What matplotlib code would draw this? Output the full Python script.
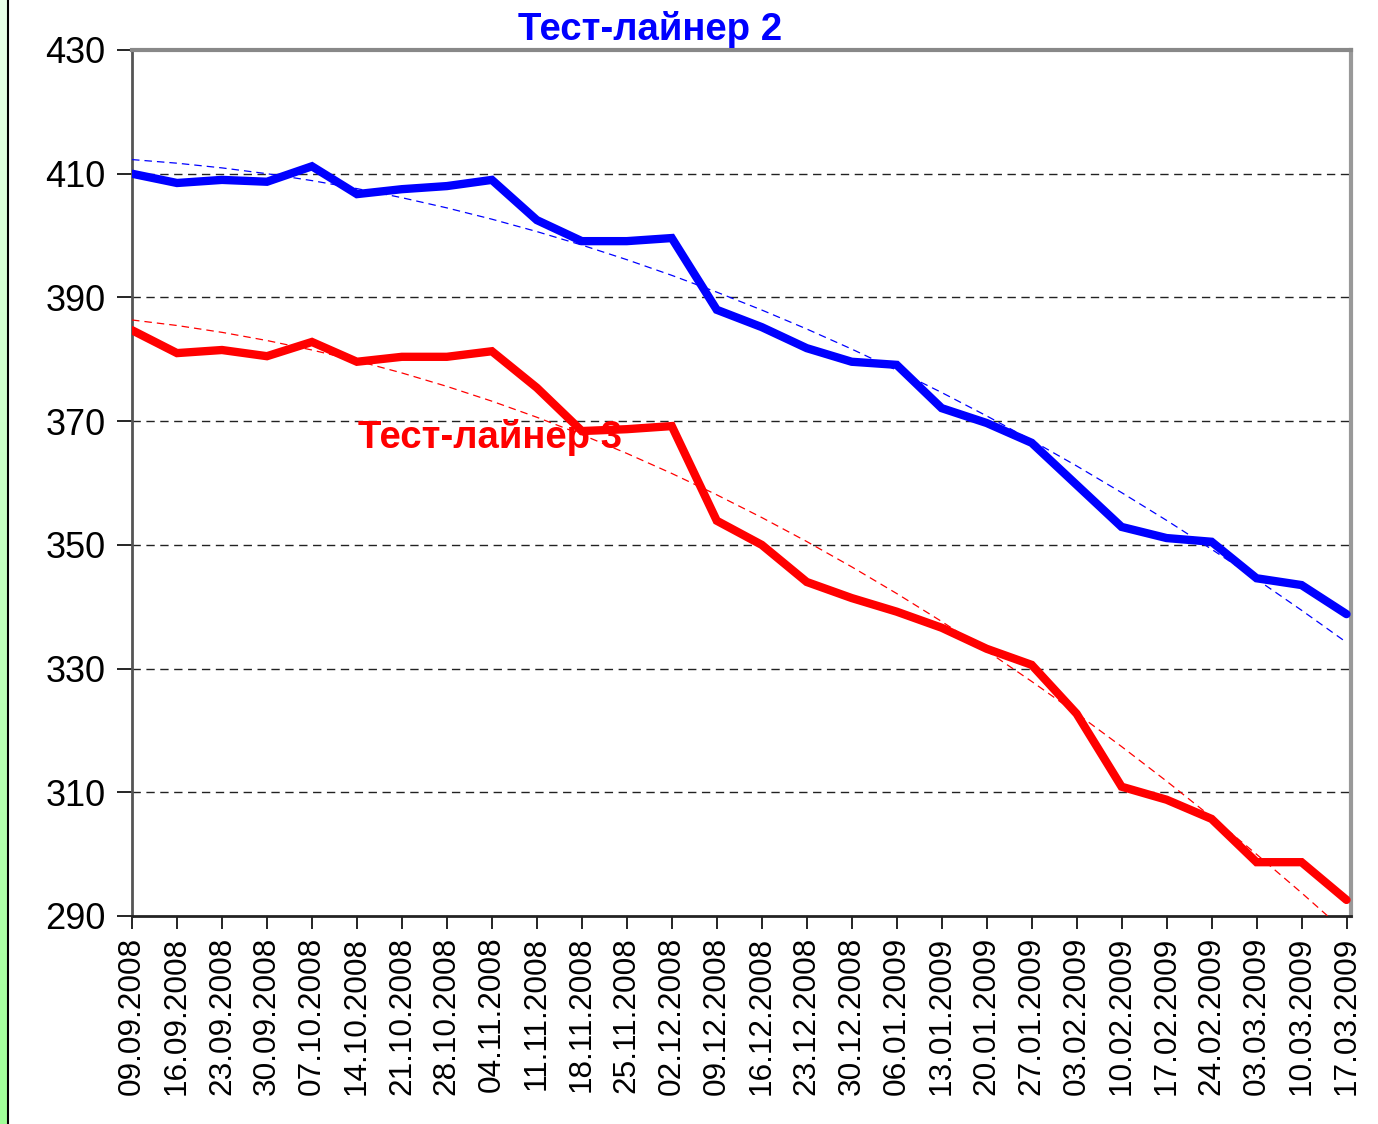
import numpy as np
import matplotlib.pyplot as plt
from matplotlib.colors import LinearSegmentedColormap

dates = ['09.09.2008', '16.09.2008', '23.09.2008', '30.09.2008', '07.10.2008',
         '14.10.2008', '21.10.2008', '28.10.2008', '04.11.2008', '11.11.2008',
         '18.11.2008', '25.11.2008', '02.12.2008', '09.12.2008', '16.12.2008',
         '23.12.2008', '30.12.2008', '06.01.2009', '13.01.2009', '20.01.2009',
         '27.01.2009', '03.02.2009', '10.02.2009', '17.02.2009', '24.02.2009',
         '03.03.2009', '10.03.2009', '17.03.2009']

liner2 = [410.0, 408.5, 409.0, 408.7, 411.2, 406.7, 407.5, 408.0, 409.0, 402.5,
          399.1, 399.1, 399.6, 388.0, 385.2, 381.8, 379.6, 379.1, 372.1, 369.7,
          366.5, 359.7, 352.9, 351.1, 350.5, 344.6, 343.5, 338.8]

liner3 = [384.7, 381.0, 381.5, 380.5, 382.8, 379.6, 380.4, 380.4, 381.3, 375.4,
          368.4, 368.7, 369.2, 353.9, 350.0, 344.0, 341.4, 339.2, 336.6, 333.2,
          330.6, 322.7, 310.9, 308.8, 305.7, 298.7, 298.7, 292.6]

plt.rcParams['font.family'] = ['Liberation Sans', 'DejaVu Sans']

fig = plt.figure(figsize=(13.78, 11.24), dpi=100)

# зелёная полоса слева
strip = fig.add_axes([0, 0, 7 / 1378, 1])
grad = np.linspace(0, 1, 256).reshape(-1, 1)
cm = LinearSegmentedColormap.from_list('g', ['#a0ff98', '#e8ffe8'])
strip.imshow(grad, aspect='auto', cmap=cm, origin='lower')
strip.axis('off')
fig.add_artist(plt.Line2D([7.5 / 1378, 7.5 / 1378], [0, 1], color='black', lw=1.5))

ax = fig.add_axes([132 / 1378, 1 - 916 / 1124, (1351 - 132) / 1378, (916 - 50) / 1124])

x = np.arange(len(dates))

# полиномиальные линии тренда
for vals, c in [(liner2, 'blue'), (liner3, 'red')]:
    p = np.polyfit(x, vals, 2)
    ax.plot(x, np.polyval(p, x), color=c, lw=0.9, ls=(0, (6, 4)), zorder=3)

ax.plot(x, liner2, color='blue', lw=6, zorder=4, solid_capstyle='round', solid_joinstyle='miter')
ax.plot(x, liner3, color='red', lw=6, zorder=4, solid_capstyle='round', solid_joinstyle='miter')

ax.set_xlim(0, 27.1)
ax.set_ylim(290, 430)
ax.set_yticks(range(290, 431, 20))
ax.set_xticks(x)
ax.set_xticklabels(dates, rotation=90, fontsize=22.7)
ax.tick_params(axis='y', labelsize=26, length=11, width=1.2, direction='out', pad=8)
ax.tick_params(axis='x', length=9, width=1.2, direction='out', pad=6)

for yv in range(310, 430, 20):
    ax.axhline(yv, color='#222222', lw=1, ls=(0, (6, 4)), zorder=1)

ax.spines['left'].set_color('#555555')
ax.spines['left'].set_linewidth(2)
ax.spines['bottom'].set_color('#222222')
ax.spines['bottom'].set_linewidth(2)
ax.spines['top'].set_color('#888888')
ax.spines['top'].set_linewidth(3)
ax.spines['right'].set_color('#999999')
ax.spines['right'].set_linewidth(3)

fig.text(650 / 1378, 1 - 30 / 1124, 'Тест-лайнер 2', color='blue', fontsize=27.6,
         fontweight='bold', ha='center', va='center')
ax.text(7.96, 367.4, 'Тест-лайнер 3', color='red', fontsize=27.6,
        fontweight='bold', ha='center', va='center', zorder=5)

fig.savefig('out.png', dpi=100)
